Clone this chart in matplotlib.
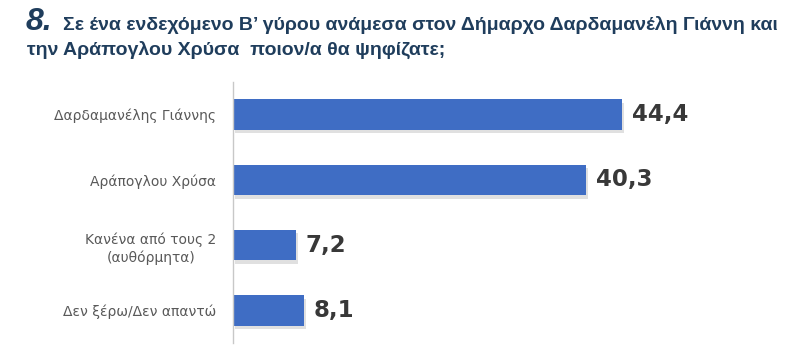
import matplotlib.pyplot as plt
import matplotlib.patheffects as pe

categories = ["Δαρδαμανέλης Γιάννης", "Αράπογλου Χρύσα",
              "Κανένα από τους 2\n(αυθόρμητα)", "Δεν ξέρω/Δεν απαντώ"]
values = [44.4, 40.3, 7.2, 8.1]
value_labels = ["44,4", "40,3", "7,2", "8,1"]

title_num = "8."
title_line1 = "Σε ένα ενδεχόμενο Β’ γύρου ανάμεσα στον Δήμαρχο Δαρδαμανέλη Γιάννη και"
title_line2 = "την Αράπογλου Χρύσα  ποιον/α θα ψηφίζατε;"

fig = plt.figure(figsize=(8, 3.57), dpi=100)
ax = fig.add_axes([233 / 800, 14 / 357, 438 / 800, 261 / 357])

ypos = list(range(len(categories)))
bars = ax.barh(ypos, values, height=0.47, color="#3F6DC4", zorder=2)
for b in bars:
    b.set_path_effects([pe.SimplePatchShadow(offset=(1.5, -2.5), shadow_rgbFace="#999999", alpha=0.3),
                        pe.Normal()])

for y, v, lab in zip(ypos, values, value_labels):
    ax.text(v + 1.1, y, lab, va="center", ha="left", fontsize=16.5,
            fontweight="bold", color="#383838", family="DejaVu Sans")

ax.set_xlim(0, 50)
ax.set_ylim(3.5, -0.5)
ax.set_yticks(ypos)
ax.set_yticklabels(categories, fontsize=10, color="#595959", linespacing=1.3,
                   multialignment="center")
ax.tick_params(axis="y", length=0, pad=12)
ax.set_xticks([])
for s in ["top", "right", "bottom"]:
    ax.spines[s].set_visible(False)
ax.spines["left"].set_color("#C8C8C8")
ax.spines["left"].set_linewidth(1)

tc = "#1F3D5C"
fig.text(26 / 800, 1 - 30 / 357, title_num, fontsize=23, fontweight="bold",
         style="italic", color=tc, family="Liberation Sans", va="baseline")
fig.text(63 / 800, 1 - 30 / 357, title_line1, fontsize=14, fontweight="bold",
         color=tc, family="Liberation Sans", va="baseline")
fig.text(27 / 800, 1 - 55 / 357, title_line2, fontsize=14, fontweight="bold",
         color=tc, family="Liberation Sans", va="baseline")

fig.savefig("out.png", dpi=100, facecolor="white")
